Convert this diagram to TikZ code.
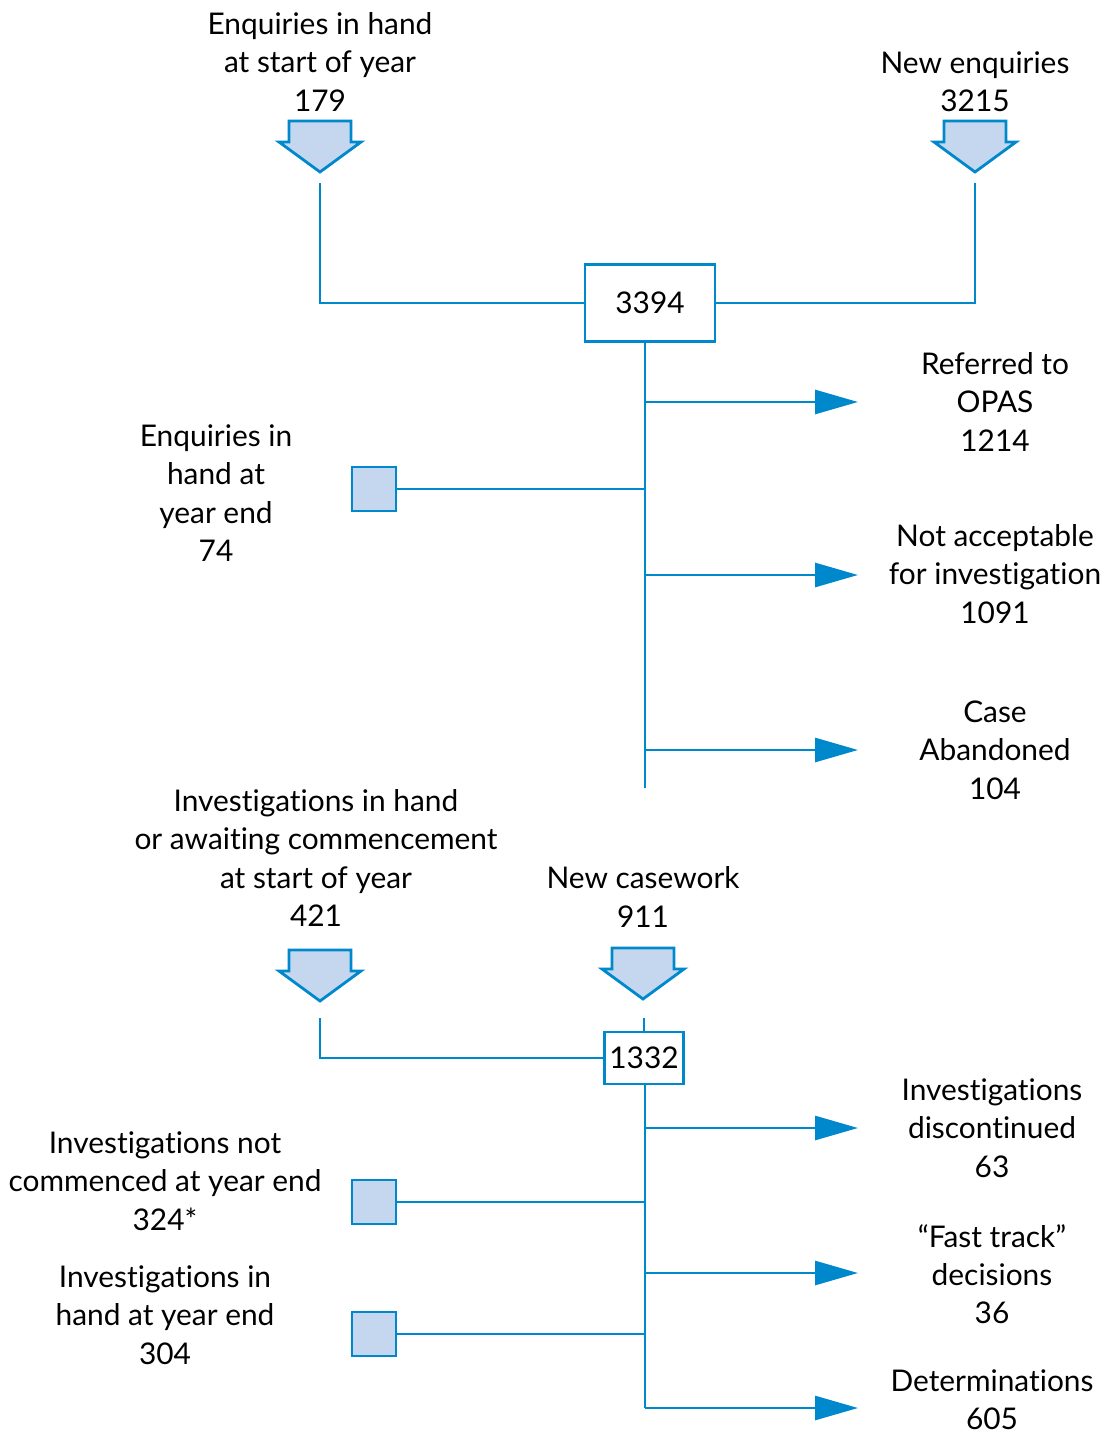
\documentclass[tikz,border=0pt]{standalone}
\usepackage{fontspec}
\setmainfont{Lato}[Ligatures = CommonOff]
\usetikzlibrary{arrows.meta}

\definecolor{flowblue}{RGB}{0,136,204}
\definecolor{flowfill}{RGB}{197,215,238}

\tikzset{
	flow/.style = {draw = flowblue, line width = 1.6pt},
	outflow/.style = {flow, -{Triangle[length = 0.86cm, width = 0.48cm]}},
	lbl/.style = {align = center, inner sep = 0pt, font = \fontsize{17}{21.8}\selectfont},
	total/.style = {flow, fill = white, inner sep = 0pt, font = \fontsize{17}{21.8}\selectfont},
	stock/.style = {flow, fill = flowfill, minimum size = 0.88cm, inner sep = 0pt},
}

% block arrow pointing down: #1 = centre x, #2 = top y
\newcommand{\inarrow}[2]{%
	\draw[flow, fill = flowfill, line join = miter]
		(#1-31, #2) -- (#1+31, #2) -- (#1+31, #2+21) -- (#1+41, #2+21)
		-- (#1, #2+51) -- (#1-41, #2+21) -- (#1-31, #2+21) -- cycle;
}

\begin{document}
\begin{tikzpicture}[x = 0.02cm, y = -0.02cm]
	\useasboundingbox (0,0) rectangle (1109,1435);

	% enquiries
	\node[lbl] (startE) at (320, 62) {Enquiries in hand\\at start of year\\179};
	\node[lbl] (newE) at (975, 82) {New enquiries\\3215};
	\inarrow{320}{121}
	\inarrow{975}{121}
	\coordinate (inE1) at (320, 183);
	\coordinate (inE2) at (975, 183);

	\node[total, minimum width = 2.6cm, minimum height = 1.54cm] (sumE) at (650, 303) {3394};
	\draw[flow] (inE1) |- (sumE.west);
	\draw[flow] (inE2) |- (sumE.east);

	\coordinate (spineE) at (645, 788);
	\draw[flow] (sumE.south -| spineE) -- (spineE);

	% enquiries out
	\node[lbl] (opas) at (995, 402) {Referred to\\OPAS\\1214};
	\node[lbl] (notacc) at (995, 574) {Not acceptable\\for investigation\\1091};
	\node[lbl] (aband) at (995, 750) {Case\\Abandoned\\104};
	\foreach \y/\n in {402/opas, 575/notacc, 750/aband} {
		\coordinate (\n from) at (645, \y);
		\coordinate (\n tip) at (858, \y);
		\draw[outflow] (\n from) -- (\n tip);
	}

	\node[stock] (endE) at (374, 489) {};
	\draw[flow] (endE.east) -- (endE.east -| spineE);
	\node[lbl] at (216, 493) {Enquiries in\\hand at\\year end\\74};

	% investigations
	\node[lbl] (startI) at (316, 858) {Investigations in hand\\or awaiting commencement\\at start of year\\421};
	\node[lbl] (newI) at (643, 897) {New casework\\911};
	\inarrow{320}{950}
	\inarrow{643}{948}
	\coordinate (inI1) at (320, 1018);
	\coordinate (inI2) at (644, 1018);

	\node[total, minimum width = 1.58cm, minimum height = 1.04cm] (sumI) at (644, 1058) {1332};
	\draw[flow] (inI1) |- (sumI.west);
	\draw[flow] (inI2) -- (inI2 |- sumI.north);

	\coordinate (spineI) at (645, 1408);
	\draw[flow] (sumI.south -| spineI) -- (spineI);

	% investigations out
	\node[lbl] (disc) at (992, 1128) {Investigations\\discontinued\\63};
	\node[lbl] (fast) at (992, 1274) {“Fast track”\\decisions\\36};
	\node[lbl] (determ) at (992, 1400) {Determinations\\605};
	\foreach \y/\n in {1128/disc, 1273/fast, 1408/determ} {
		\coordinate (\n from) at (645, \y);
		\coordinate (\n tip) at (858, \y);
		\draw[outflow] (\n from) -- (\n tip);
	}

	\node[stock] (notcom) at (374, 1202) {};
	\node[stock] (endI) at (374, 1334) {};
	\draw[flow] (notcom.east) -- (notcom.east -| spineI);
	\draw[flow] (endI.east) -- (endI.east -| spineI);
	\node[lbl] at (165, 1181) {Investigations not\\commenced at year end\\324*};
	\node[lbl] at (165, 1315) {Investigations in\\hand at year end\\304};
\end{tikzpicture}
\end{document}
